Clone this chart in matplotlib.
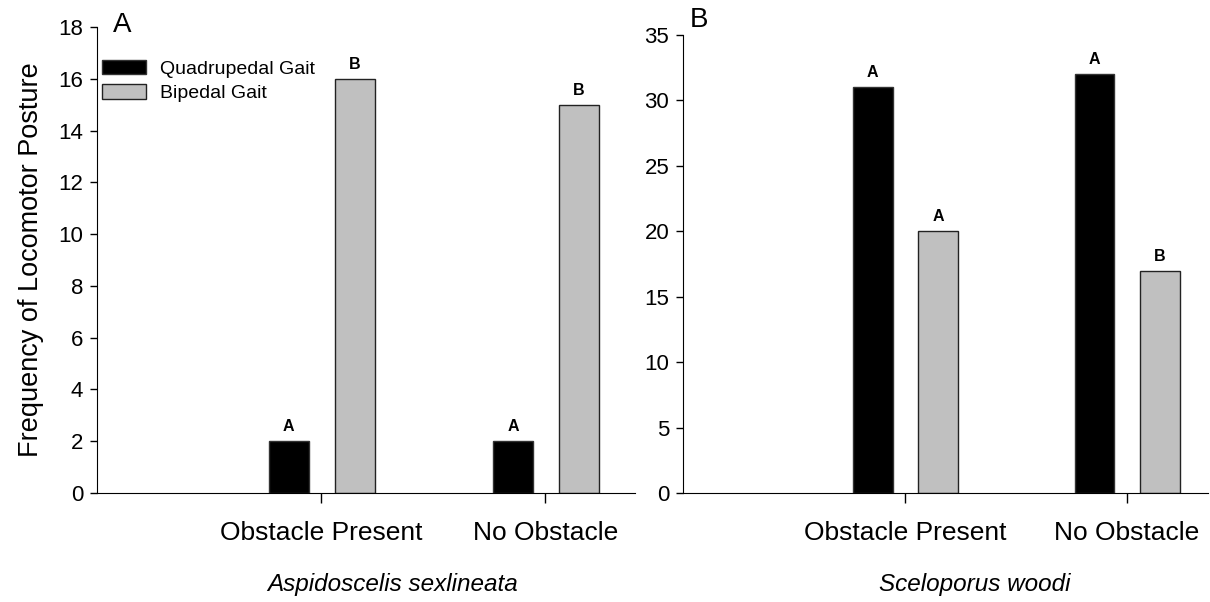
import numpy as np
import matplotlib.pyplot as plt
from matplotlib.patches import Patch

plt.rcParams['font.family'] = ['Liberation Sans', 'DejaVu Sans']

conditions = ['Obstacle Present', 'No Obstacle']
species = ['Aspidoscelis sexlineata', 'Sceloporus woodi']
panel_tags = ['A', 'B']

quad_a = [2, 2]
biped_a = [16, 15]
quad_letters_a = ['A', 'A']
biped_letters_a = ['B', 'B']

quad_b = [31, 32]
biped_b = [20, 17]
quad_letters_b = ['A', 'A']
biped_letters_b = ['A', 'B']

black = '#000000'
grey = '#c0c0c0'

fig = plt.figure(figsize=(12.1, 6.02), dpi=100)
axA = fig.add_axes([0.0802, 0.181, 0.4446, 0.774])
axB = fig.add_axes([0.5645, 0.181, 0.4335, 0.761])

panels = [
    (axA, quad_a, biped_a, quad_letters_a, biped_letters_a, 18, 2, 2.4, (0.550, -0.172)),
    (axB, quad_b, biped_b, quad_letters_b, biped_letters_b, 35, 5, 2.365, (0.556, -0.175)),
]

x = np.array([1, 2])
w = 0.18
for i, (ax, q, b, ql, bl, ymax, step, xmax, lab_xy) in enumerate(panels):
    ax.bar(x - 0.145, q, width=w, color=black, edgecolor='#333333', linewidth=1)
    ax.bar(x + 0.15, b, width=w, color=grey, edgecolor='#222222', linewidth=1)
    for xi, v, t in zip(x - 0.145, q, ql):
        ax.annotate(t, (xi, v), xytext=(0, 5), textcoords='offset points',
                    ha='center', va='bottom', fontsize=11.5, fontweight='bold')
    for xi, v, t in zip(x + 0.15, b, bl):
        ax.annotate(t, (xi, v), xytext=(0, 5), textcoords='offset points',
                    ha='center', va='bottom', fontsize=11.5, fontweight='bold')
    ax.set_xlim(0, xmax)
    ax.set_ylim(0, ymax)
    ax.set_yticks(np.arange(0, ymax + 1, step))
    ax.set_xticks(x)
    ax.set_xticklabels(conditions, fontsize=19)
    ax.tick_params(axis='y', labelsize=16, length=5, width=1, direction='out', pad=5)
    ax.tick_params(axis='x', length=7, width=1, direction='out', pad=13)
    ax.spines['top'].set_visible(False)
    ax.spines['right'].set_visible(False)
    ax.spines['left'].set_bounds(0, ymax)
    ax.set_xlabel(species[i], fontsize=17.5, style='italic')
    ax.xaxis.set_label_coords(*lab_xy)

axA.text(0.046, 1.005, panel_tags[0], transform=axA.transAxes, fontsize=20,
         ha='center', va='center')
axB.text(0.031, 1.033, panel_tags[1], transform=axB.transAxes, fontsize=20,
         ha='center', va='center')

axA.set_ylabel('Frequency of Locomotor Posture', fontsize=19.5, labelpad=10)

handles = [Patch(facecolor=black, edgecolor='#333333', label='Quadrupedal Gait'),
           Patch(facecolor=grey, edgecolor='#222222', label='Bipedal Gait')]
axA.legend(handles=handles, loc='upper left', bbox_to_anchor=(-0.013, 0.955), frameon=False,
           fontsize=14, handlelength=2.3, handleheight=0.75, handletextpad=0.7,
           labelspacing=0.35, borderaxespad=0.2)

fig.savefig('out.png', dpi=100)
